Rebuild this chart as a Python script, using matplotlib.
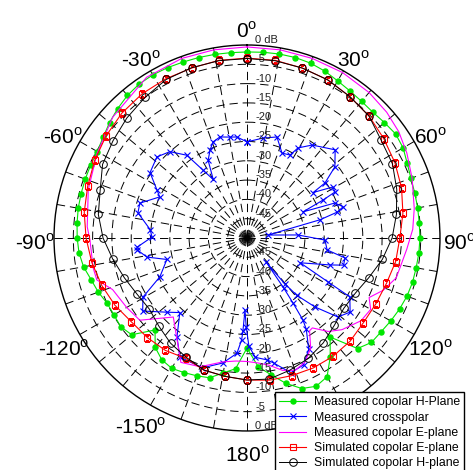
import numpy as np
import matplotlib
matplotlib.use("Agg")
import matplotlib.pyplot as plt

plt.rcParams['font.family'] = ['Liberation Sans', 'DejaVu Sans']
plt.rcParams['mathtext.fontset'] = 'custom'
plt.rcParams['mathtext.rm'] = 'Liberation Sans'
plt.rcParams['lines.scale_dashes'] = False

# angles in degrees (clockwise from top), levels in dB

# measured copolar H-plane (green dots)
green_ang = [0, 5, 10, 15, 20, 25, 30, 35, 40, 45, 50, 55, 60, 65, 70, 75, 80, 85,
             90, 95, 100, 105, 110, 115, 120, 125, 130, 135, 140, 145, 150, 155, 160,
             165, 170, 175, 180, 185, 190, 195, 200, 205, 210, 215, 220, 225, 230,
             235, 240, 245, 250, 255, 260, 265, 270, 275, 280, 285, 290, 295, 300,
             305, 310, 315, 320, 325, 330, 335, 340, 345, 350, 355, 360]
green_db = [-1.8, -1.7, -1.6, -1.6, -1.8, -2.3, -3.0, -3.5, -3.8, -3.9, -3.5, -3.0,
            -3.3, -4.2, -4.8, -5.0, -5.1, -5.2, -5.2, -5.3, -5.5, -5.6, -5.9, -6.4,
            -7.0, -7.6, -7.9, -9.5, -16.5, -12.4, -8.5, -7.6, -8.5, -11.0, -14.0,
            -16.5, -21.5, -16.0, -14.5, -12.5, -12.0, -11.5, -11.0, -11.5, -13.0,
            -16.3, -11.0, -10.0, -10.2, -10.0, -9.0, -8.2, -7.0, -6.3, -6.0, -5.8,
            -5.6, -5.5, -5.4, -5.3, -5.2, -4.5, -3.5, -2.6, -1.8, -1.3, -1.2, -1.3,
            -1.5, -1.6, -1.7, -1.8, -1.8]

# measured crosspolar (blue x)
blue_ang = [0, 9, 16.5, 22.4, 27.4, 29.5, 35, 45, 51, 54.8, 55.5, 59.3, 62.4, 63.5,
            65, 68.3, 72, 74, 76, 82, 86.6, 91.5, 98.5, 101.5, 105.7, 108, 115,
            118.5, 119.8, 125.7, 131, 135.4, 139, 140.5, 141.6, 143.7, 144.7, 145.7,
            147, 151, 156, 162, 168, 170.7, 176, 179, 180.5, 181.6, 182.5, 183, 185,
            191, 199, 209.4, 215.3, 222, 227, 235, 240.4, 246, 255, 259.2, 264,
            265.3, 270.6, 275, 283, 288, 295.2, 298, 304, 312, 318.2, 324, 327, 330,
            333.4, 337.2, 340.5, 345, 350.5, 354.3, 360]
blue_db = [-25.1, -23.8, -22.7, -26.2, -25.8, -23.2, -20.6, -17.7, -20.7, -25.3,
           -29.2, -24.1, -24.3, -28.0, -34.0, -25.5, -23.8, -25.7, -30.5, -44.5,
           -36.8, -29.8, -29.0, -24.1, -24.0, -27.4, -34.8, -26.0, -19.3, -17.1,
           -18.8, -24.9, -30.3, -34.7, -42.0, -34.0, -29.4, -24.3, -21.8, -17.0,
           -14.0, -13.3, -16.9, -18.0, -19.0, -22.0, -27.0, -31.3, -26.0, -23.6,
           -20.0, -17.0, -14.4, -14.6, -18.6, -24.0, -21.8, -17.0, -19.0, -25.3,
           -28.5, -23.6, -21.3, -21.5, -25.4, -24.8, -21.0, -20.8, -25.0, -23.6,
           -19.7, -18.6, -20.0, -23.5, -29.0, -32.5, -27.5, -25.3, -23.6, -22.9,
           -23.5, -23.7, -25.1]

# measured copolar E-plane (magenta line)
mag_ang = [0, 10, 20, 30, 40, 48, 55, 62, 70, 80, 87, 94, 100, 105, 111, 116, 120,
           126, 134, 139, 144, 146, 150, 155, 160, 165, 170, 175, 180, 185, 191,
           200, 208, 214.5, 223, 232.5, 240, 249, 254.4, 259, 269.3, 274, 287,
           299.5, 312, 328, 340, 350, 360]
mag_db = [-0.5, -0.5, -0.5, -0.5, -0.8, -1.3, -2.0, -3.1, -4.5, -6.0, -7.0, -8.5,
          -9.5, -10.0, -12.2, -14.8, -13.0, -13.5, -15.8, -17.9, -21.2, -21.0,
          -17.0, -14.5, -13.5, -14.5, -16.5, -17.5, -18.0, -18.0, -17.3, -14.5,
          -13.5, -18.0, -22.0, -15.0, -14.0, -12.7, -9.6, -9.4, -9.3, -8.5, -7.0,
          -5.4, -3.2, -0.9, -0.5, -0.5, -0.5]

# simulated copolar E-plane (red squares) and H-plane (black circles)
sim_ang = list(range(0, 361, 9))
red_db = [-3.4, -3.4, -3.7, -4.0, -4.7, -5.3, -6.2, -7.0, -7.9, -9.1, -10.4, -11.0,
          -12.0, -12.5, -12.7, -12.2, -12.1, -12.2, -12.5, -12.7, -13.2, -13.7,
          -14.0, -15.0, -14.0, -13.5, -13.0, -11.6, -10.4, -9.3, -8.3, -7.3, -6.6,
          -5.7, -4.9, -4.2, -3.8, -3.7, -3.7, -3.4, -3.4]
black_db = [-3.5, -3.5, -3.7, -4.0, -4.7, -5.3, -7.0, -7.7, -9.2, -10.8, -12.4,
            -14.5, -16.8, -18.5, -19.0, -18.0, -16.4, -15.0, -14.0, -13.0, -13.2,
            -13.7, -14.0, -15.3, -16.3, -17.7, -18.7, -18.0, -16.6, -14.8, -12.7,
            -11.0, -10.0, -8.0, -7.1, -6.0, -5.0, -3.9, -3.6, -3.5, -3.5]

ring_levels = [0, -5, -10, -15, -20, -25, -30, -35, -40, -45]
angle_ticks = [0, 30, 60, 90, 120, 150, 180, -150, -120, -90, -60, -30]

fig = plt.figure(figsize=(4.73, 4.70), dpi=100)
ax = fig.add_axes([0.1142, 0.083, 0.816, 0.8213], projection='polar')
ax.set_theta_zero_location('N')
ax.set_theta_direction(-1)
ax.set_ylim(-50, 0)
ax.set_thetagrids(np.arange(0, 360, 10), labels=[])
ax.set_rgrids(np.arange(-45, 0, 5), labels=[])
ax.grid(True, color='k', linestyle=(0, (6, 3.5)), linewidth=0.7)
ax.spines['polar'].set_linewidth(1.0)
ax.tick_params(length=0)


def rad(a):
    return np.deg2rad(a)


ax.plot(rad(np.array(green_ang)), green_db, color='#00e600', lw=0.8, marker='o',
        ms=3.6, mec='#00e600', mfc='#00e600', label='Measured copolar H-Plane', zorder=3)
ax.plot(rad(np.array(blue_ang)), blue_db, color='#0000ff', lw=0.8, marker='x',
        ms=4, mew=0.8, label='Measured crosspolar', zorder=4)
ax.plot(rad(np.array(mag_ang)), mag_db, color='#ff00ff', lw=0.8,
        label='Measured copolar E-plane', zorder=4)
ax.plot(rad(np.array(sim_ang)), red_db, color='#ff0000', lw=0.8, marker='s',
        ms=5, mfc='none', mew=0.8, label='Simulated copolar E-plane', zorder=5)
ax.plot(rad(np.array(sim_ang)), black_db, color='k', lw=0.7, marker='o',
        ms=5.5, mfc='none', mew=0.7, label='Simulated copolar H-plane', zorder=5)

# dB labels along the vertical axis, top and bottom
for v in ring_levels:
    txt = '0 dB' if v == 0 else str(v)
    for th in (0, np.pi):
        ax.annotate(txt, xy=(th, v), xytext=(6, 0), textcoords='offset points',
                    ha='left', va='bottom', fontsize=8, color='#222222',
                    annotation_clip=False, zorder=6)

# angle labels
r_lab = -50 + 50 * 212 / 193
for a in angle_ticks:
    ax.annotate(r'%d$^{\rm o}$' % a, xy=(rad(a), r_lab), xytext=(0, -4),
                textcoords='offset points', ha='center', va='center',
                fontsize=15, annotation_clip=False)

leg = fig.legend(loc='upper left', bbox_to_anchor=(275 / 473, 1 - 392 / 470),
                 fontsize=8.8, frameon=True, fancybox=False, edgecolor='k',
                 framealpha=1, borderpad=0.35, labelspacing=0.27, handlelength=2.2,
                 handletextpad=0.6, borderaxespad=0)
leg.get_frame().set_linewidth(1.0)
leg.set_zorder(10)

fig.savefig('out.png', dpi=100)
